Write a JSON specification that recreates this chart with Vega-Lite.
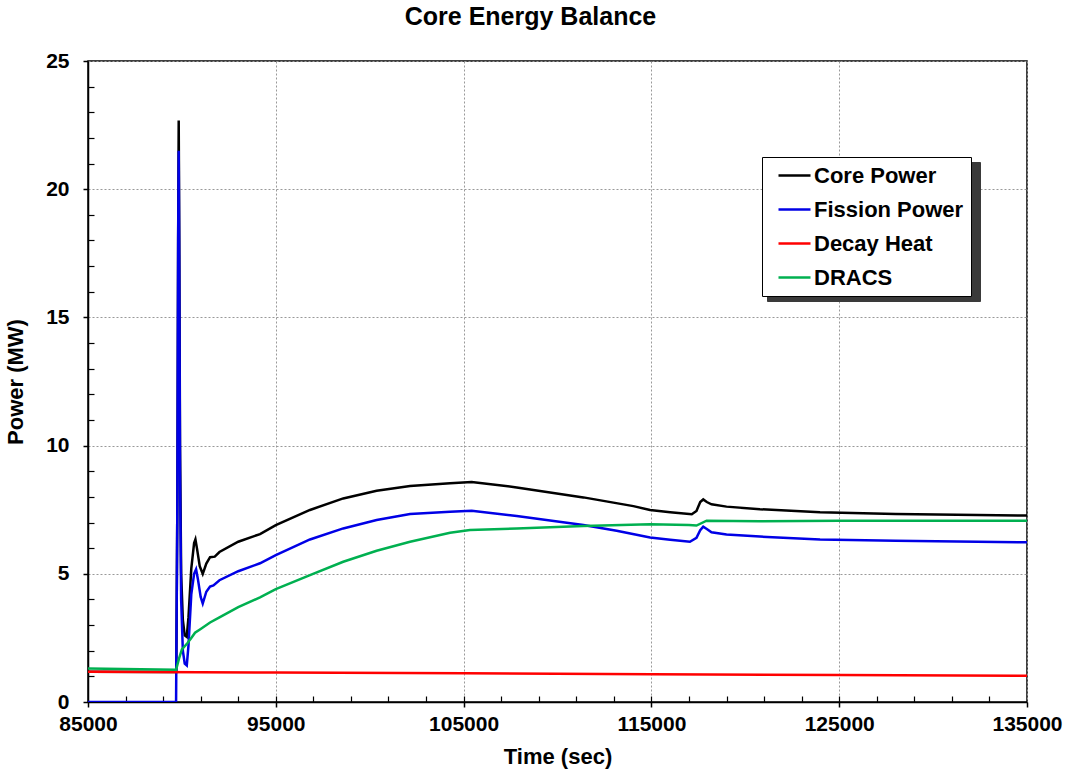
{
"$schema": "https://vega.github.io/schema/vega-lite/v6.json",
"width": 939, "height": 641,
"autosize": {"type": "none"},
"padding": {"left": 88, "top": 61, "right": 41, "bottom": 74},
"background": "white",
"title": {"text": "Core Energy Balance", "font": "Liberation Sans", "fontSize": 25, "fontWeight": "bold", "color": "black", "anchor": "middle", "dx": -27, "offset": 20},
"config": {"view": {"stroke": "black", "strokeWidth": 1.5}, "font": "Liberation Sans"},
"datasets": {
"d": [
{"t":85000,"p":1.18,"s":"Core Power"},{"t":89700,"p":1.17,"s":"Core Power"},{"t":89760,"p":8,"s":"Core Power"},{"t":89800,"p":18,"s":"Core Power"},{"t":89830,"p":22.68,"s":"Core Power"},{"t":89860,"p":18,"s":"Core Power"},{"t":89900,"p":10,"s":"Core Power"},{"t":89960,"p":5,"s":"Core Power"},{"t":90050,"p":3.2,"s":"Core Power"},{"t":90150,"p":2.6,"s":"Core Power"},{"t":90257,"p":2.54,"s":"Core Power"},{"t":90350,"p":3.3,"s":"Core Power"},{"t":90500,"p":5.2,"s":"Core Power"},{"t":90650,"p":6.2,"s":"Core Power"},{"t":90720,"p":6.34,"s":"Core Power"},{"t":90800,"p":6.0,"s":"Core Power"},{"t":90950,"p":5.3,"s":"Core Power"},{"t":91110,"p":5.0,"s":"Core Power"},{"t":91300,"p":5.4,"s":"Core Power"},{"t":91500,"p":5.65,"s":"Core Power"},{"t":91750,"p":5.67,"s":"Core Power"},{"t":92000,"p":5.85,"s":"Core Power"},{"t":93000,"p":6.25,"s":"Core Power"},{"t":94160,"p":6.55,"s":"Core Power"},{"t":95000,"p":6.9,"s":"Core Power"},{"t":96820,"p":7.49,"s":"Core Power"},{"t":98590,"p":7.94,"s":"Core Power"},{"t":100370,"p":8.24,"s":"Core Power"},{"t":102150,"p":8.42,"s":"Core Power"},{"t":104280,"p":8.53,"s":"Core Power"},{"t":105430,"p":8.58,"s":"Core Power"},{"t":107830,"p":8.37,"s":"Core Power"},{"t":111380,"p":7.98,"s":"Core Power"},{"t":114040,"p":7.64,"s":"Core Power"},{"t":114930,"p":7.49,"s":"Core Power"},{"t":116000,"p":7.4,"s":"Core Power"},{"t":117150,"p":7.32,"s":"Core Power"},{"t":117400,"p":7.45,"s":"Core Power"},{"t":117600,"p":7.8,"s":"Core Power"},{"t":117760,"p":7.9,"s":"Core Power"},{"t":117950,"p":7.8,"s":"Core Power"},{"t":118200,"p":7.71,"s":"Core Power"},{"t":119000,"p":7.62,"s":"Core Power"},{"t":120780,"p":7.52,"s":"Core Power"},{"t":123980,"p":7.4,"s":"Core Power"},{"t":128000,"p":7.33,"s":"Core Power"},{"t":135000,"p":7.27,"s":"Core Power"},
{"t":85000,"p":0,"s":"Fission Power"},{"t":89690,"p":0,"s":"Fission Power"},{"t":89760,"p":8,"s":"Fission Power"},{"t":89800,"p":18,"s":"Fission Power"},{"t":89830,"p":21.5,"s":"Fission Power"},{"t":89860,"p":17,"s":"Fission Power"},{"t":89900,"p":9,"s":"Fission Power"},{"t":89960,"p":4,"s":"Fission Power"},{"t":90050,"p":2.0,"s":"Fission Power"},{"t":90150,"p":1.5,"s":"Fission Power"},{"t":90260,"p":1.43,"s":"Fission Power"},{"t":90350,"p":2.2,"s":"Fission Power"},{"t":90500,"p":4.2,"s":"Fission Power"},{"t":90650,"p":5.0,"s":"Fission Power"},{"t":90755,"p":5.18,"s":"Fission Power"},{"t":90850,"p":4.8,"s":"Fission Power"},{"t":91000,"p":4.1,"s":"Fission Power"},{"t":91110,"p":3.84,"s":"Fission Power"},{"t":91300,"p":4.3,"s":"Fission Power"},{"t":91500,"p":4.5,"s":"Fission Power"},{"t":91680,"p":4.55,"s":"Fission Power"},{"t":92000,"p":4.75,"s":"Fission Power"},{"t":93000,"p":5.1,"s":"Fission Power"},{"t":94160,"p":5.41,"s":"Fission Power"},{"t":95000,"p":5.73,"s":"Fission Power"},{"t":96820,"p":6.34,"s":"Fission Power"},{"t":98590,"p":6.77,"s":"Fission Power"},{"t":100370,"p":7.1,"s":"Fission Power"},{"t":102150,"p":7.33,"s":"Fission Power"},{"t":104280,"p":7.42,"s":"Fission Power"},{"t":105430,"p":7.46,"s":"Fission Power"},{"t":107830,"p":7.25,"s":"Fission Power"},{"t":111380,"p":6.9,"s":"Fission Power"},{"t":113150,"p":6.68,"s":"Fission Power"},{"t":114930,"p":6.42,"s":"Fission Power"},{"t":116000,"p":6.33,"s":"Fission Power"},{"t":117050,"p":6.25,"s":"Fission Power"},{"t":117400,"p":6.4,"s":"Fission Power"},{"t":117600,"p":6.7,"s":"Fission Power"},{"t":117760,"p":6.84,"s":"Fission Power"},{"t":117950,"p":6.75,"s":"Fission Power"},{"t":118200,"p":6.62,"s":"Fission Power"},{"t":119000,"p":6.53,"s":"Fission Power"},{"t":120780,"p":6.45,"s":"Fission Power"},{"t":123980,"p":6.34,"s":"Fission Power"},{"t":128000,"p":6.29,"s":"Fission Power"},{"t":135000,"p":6.23,"s":"Fission Power"},
{"t":85000,"p":1.18,"s":"Decay Heat"},{"t":95000,"p":1.15,"s":"Decay Heat"},{"t":105000,"p":1.12,"s":"Decay Heat"},{"t":115000,"p":1.08,"s":"Decay Heat"},{"t":125000,"p":1.05,"s":"Decay Heat"},{"t":135000,"p":1.02,"s":"Decay Heat"},
{"t":85000,"p":1.31,"s":"DRACS"},{"t":89690,"p":1.26,"s":"DRACS"},{"t":89850,"p":1.7,"s":"DRACS"},{"t":90000,"p":2.05,"s":"DRACS"},{"t":90300,"p":2.3,"s":"DRACS"},{"t":90500,"p":2.5,"s":"DRACS"},{"t":90700,"p":2.7,"s":"DRACS"},{"t":91000,"p":2.85,"s":"DRACS"},{"t":91500,"p":3.1,"s":"DRACS"},{"t":92000,"p":3.3,"s":"DRACS"},{"t":93000,"p":3.7,"s":"DRACS"},{"t":94160,"p":4.08,"s":"DRACS"},{"t":95000,"p":4.4,"s":"DRACS"},{"t":96820,"p":4.95,"s":"DRACS"},{"t":98590,"p":5.47,"s":"DRACS"},{"t":100370,"p":5.9,"s":"DRACS"},{"t":102150,"p":6.25,"s":"DRACS"},{"t":104280,"p":6.6,"s":"DRACS"},{"t":105340,"p":6.71,"s":"DRACS"},{"t":107830,"p":6.77,"s":"DRACS"},{"t":111380,"p":6.86,"s":"DRACS"},{"t":114930,"p":6.93,"s":"DRACS"},{"t":117000,"p":6.9,"s":"DRACS"},{"t":117400,"p":6.88,"s":"DRACS"},{"t":117940,"p":7.07,"s":"DRACS"},{"t":120780,"p":7.05,"s":"DRACS"},{"t":125000,"p":7.07,"s":"DRACS"},{"t":135000,"p":7.07,"s":"DRACS"}
]
},
"data": {"name": "d"},
"layer": [
{
"mark": {"type": "line", "strokeOpacity": 0},
"encoding": {
"x": {"field": "t", "type": "quantitative", "axis": {"orient": "bottom", "values": [87000, 89000, 91000, 93000, 95000, 97000, 99000, 101000, 103000, 105000, 107000, 109000, 111000, 113000, 115000, 117000, 119000, 121000, 123000, 125000, 127000, 129000, 131000, 133000], "labels": false, "domain": false, "grid": false, "title": null, "tickSize": -6, "tickColor": "black", "tickWidth": 1.2}},
"y": {"field": "p", "type": "quantitative", "axis": {"orient": "left", "values": [1, 2, 3, 4, 6, 7, 8, 9, 11, 12, 13, 14, 16, 17, 18, 19, 21, 22, 23, 24], "labels": false, "domain": false, "grid": false, "title": null, "tickSize": -6, "tickColor": "black", "tickWidth": 1.2}},
"color": {"field": "s", "type": "nominal", "sort": null,
 "scale": {"domain": ["Fission Power", "Core Power", "Decay Heat", "DRACS"], "range": ["#3a3a3a", "#3a3a3a", "#3a3a3a", "#3a3a3a"]},
 "legend": {"title": null, "orient": "none", "legendX": 679, "legendY": 101, "strokeColor": "#3a3a3a", "fillColor": "#3a3a3a", "padding": 7, "symbolOffset": 166, "labelFont": "Liberation Sans", "labelFontWeight": "bold", "labelFontSize": 22, "labelColor": "#3a3a3a", "labelLimit": 300, "labelExpr": "''", "symbolType": "M-1.6,0H1.6", "symbolSize": 400, "symbolStrokeWidth": 2.5, "rowPadding": 11, "labelOffset": 8}}
}
},
{
"mark": {"type": "line", "strokeWidth": 2.5, "clip": true},
"encoding": {
"x": {"field": "t", "type": "quantitative", "scale": {"domain": [85000, 135000], "nice": false, "zero": false},
 "axis": {"orient": "bottom", "values": [85000, 95000, 105000, 115000, 125000, 135000], "format": "d", "title": "Time (sec)", "titleFont": "Liberation Sans", "titleFontSize": 22, "titleFontWeight": "bold", "titleColor": "black", "titlePadding": 12, "labelFont": "Liberation Sans", "labelFontSize": 21, "labelFontWeight": "bold", "labelColor": "black", "labelPadding": 6, "labelFlush": false, "labelOverlap": false, "tickSize": 5, "tickColor": "black", "tickWidth": 1.5, "domainColor": "black", "domainWidth": 1.5, "grid": true, "gridColor": "#999999", "gridDash": [2, 2], "gridWidth": 1}},
"y": {"field": "p", "type": "quantitative", "scale": {"domain": [0, 25], "nice": false},
 "axis": {"orient": "left", "values": [0, 5, 10, 15, 20, 25], "title": "Power (MW)", "titleFont": "Liberation Sans", "titleFontSize": 22, "titleFontWeight": "bold", "titleColor": "black", "titlePadding": 18, "labelFont": "Liberation Sans", "labelFontSize": 21, "labelFontWeight": "bold", "labelColor": "black", "labelPadding": 14, "labelFlush": false, "labelOverlap": false, "tickSize": 5, "tickColor": "black", "tickWidth": 1.5, "domainColor": "black", "domainWidth": 1.5, "grid": true, "gridColor": "#999999", "gridDash": [2, 2], "gridWidth": 1}},
"stroke": {"field": "s", "type": "nominal", "sort": null,
 "scale": {"domain": ["Core Power", "Fission Power", "Decay Heat", "DRACS"], "range": ["#000000", "#0000e6", "#ff0000", "#00b050"]},
 "legend": {"title": null, "orient": "none", "legendX": 674, "legendY": 96, "strokeColor": "black", "fillColor": "white", "padding": 7, "symbolOffset": 14, "labelFont": "Liberation Sans", "labelFontWeight": "bold", "labelFontSize": 22, "labelColor": "black", "labelLimit": 300, "symbolType": "M-1.6,0H1.6", "symbolSize": 400, "symbolStrokeWidth": 2.5, "rowPadding": 11, "labelOffset": 8}}
}
}
],
"resolve": {"axis": {"x": "independent", "y": "independent"}}
}
